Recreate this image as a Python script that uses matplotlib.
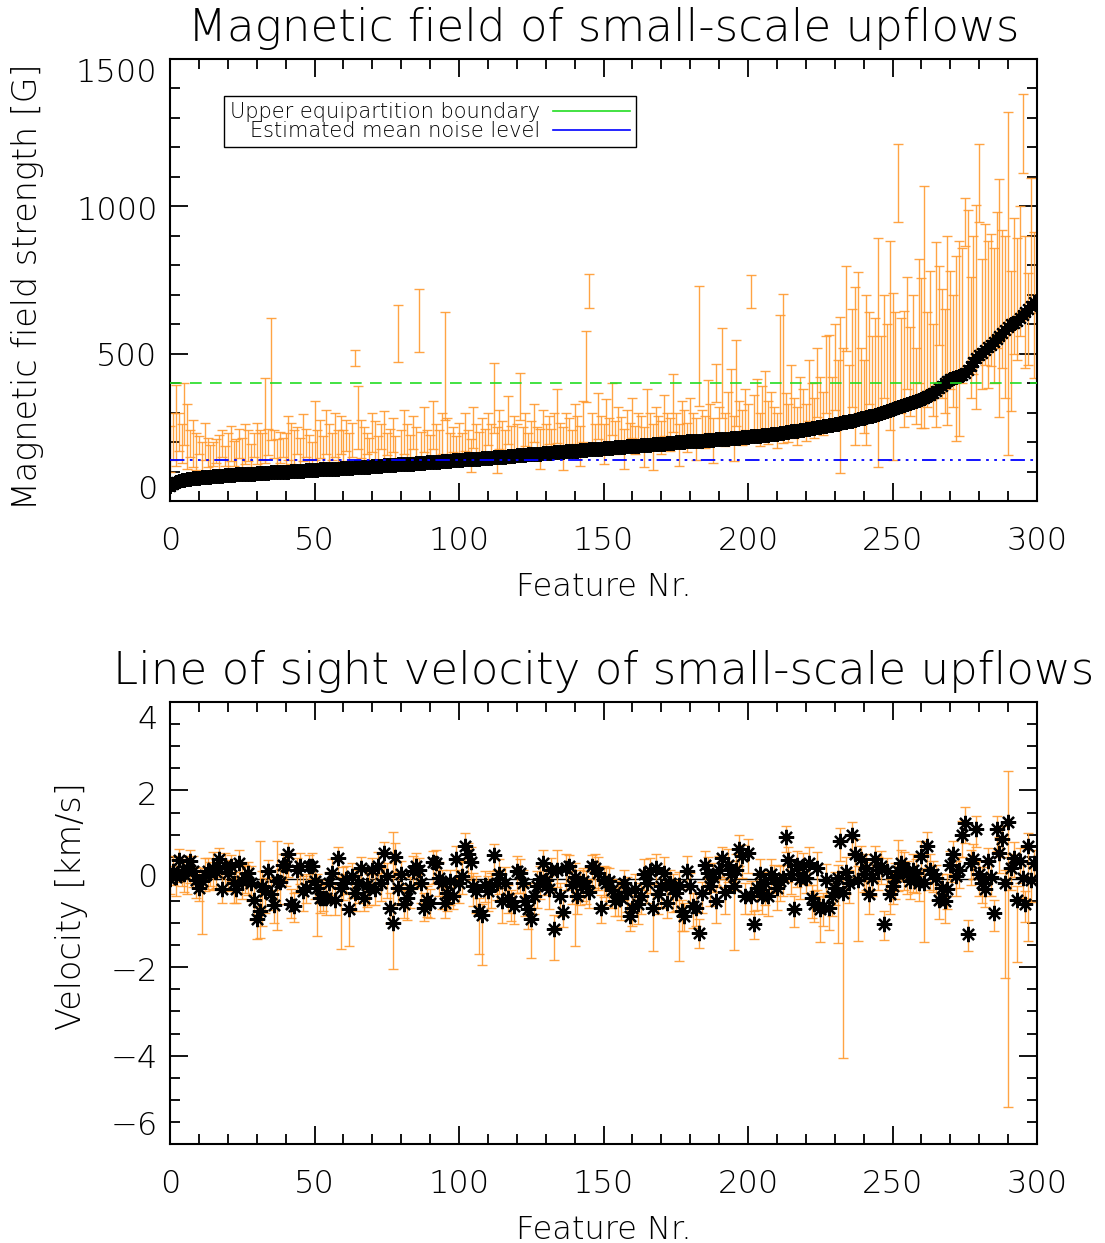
import matplotlib
matplotlib.use('Agg')
import matplotlib.pyplot as plt
import matplotlib.transforms as mtransforms
from matplotlib.lines import Line2D
from matplotlib.ticker import MultipleLocator, FixedLocator
import numpy as np

# ---- data: magnetic field (sorted) -----------------------------------
B = [50, 58, 63, 67, 70, 72, 74, 76, 77, 78,
     79, 80, 81, 82, 83, 84, 85, 85, 86, 87,
     88, 88, 89, 90, 90, 91, 92, 92, 93, 93,
     94, 95, 95, 96, 96, 97, 97, 98, 99, 99,
     100, 100, 101, 101, 102, 103, 103, 104, 104, 105,
     106, 106, 107, 107, 108, 109, 109, 110, 110, 111,
     112, 112, 113, 113, 114, 115, 115, 116, 117, 117,
     118, 119, 119, 120, 121, 121, 122, 123, 123, 124,
     125, 125, 126, 127, 127, 128, 129, 130, 130, 131,
     132, 132, 133, 134, 135, 135, 136, 137, 138, 138,
     139, 140, 141, 141, 142, 143, 144, 144, 145, 146,
     147, 147, 148, 149, 150, 151, 151, 152, 153, 154,
     155, 155, 156, 157, 158, 159, 159, 160, 161, 162,
     163, 163, 164, 165, 166, 167, 167, 168, 169, 170,
     171, 171, 172, 173, 174, 175, 175, 176, 177, 178,
     179, 179, 180, 181, 182, 183, 183, 184, 185, 186,
     187, 187, 188, 189, 190, 191, 191, 192, 193, 194,
     195, 195, 196, 197, 198, 199, 200, 200, 201, 202,
     203, 203, 204, 205, 205, 206, 207, 208, 208, 209,
     210, 211, 211, 212, 213, 214, 215, 215, 216, 217,
     218, 219, 220, 221, 222, 223, 224, 225, 227, 228,
     229, 230, 232, 233, 235, 236, 238, 239, 241, 242,
     244, 245, 247, 248, 250, 252, 253, 255, 257, 259,
     261, 263, 265, 267, 269, 271, 273, 276, 278, 280,
     283, 285, 288, 290, 293, 296, 299, 302, 305, 308,
     311, 314, 318, 321, 325, 328, 332, 335, 339, 343,
     347, 351, 356, 361, 367, 374, 382, 391, 400, 408,
     414, 418, 422, 425, 429, 435, 446, 459, 472, 484,
     494, 503, 512, 521, 530, 540, 550, 560, 570, 580,
     592, 600, 605, 612, 620, 630, 642, 652, 663, 675]

B_lo = [100, 140, 120, 170, 130, 190, 110, 150, 115, 105,
        160, 100, 140, 115, 100, 120, 130, 95, 150, 120,
        105, 135, 120, 100, 145, 110, 125, 135, 115, 150,
        125, 110, 140, 130, 155, 208, 145, 115, 130, 150,
        120, 140, 125, 105, 160, 115, 135, 150, 120, 110,
        140, 125, 145, 118, 160, 125, 138, 150, 115, 160,
        135, 170, 125, 150, 457, 175, 145, 130, 160, 120,
        165, 140, 110, 175, 135, 155, 120, 165, 130, 472,
        125, 160, 145, 120, 175, 150, 504, 130, 165, 140,
        120, 175, 150, 135, 160, 276, 145, 130, 165, 120,
        150, 125, 170, 140, 100, 180, 150, 125, 165, 140,
        190, 150, 230, 95, 175, 160, 130, 195, 150, 170,
        145, 276, 160, 185, 140, 170, 200, 155, 110, 180,
        160, 195, 150, 170, 197, 160, 105, 185, 165, 150,
        195, 170, 120, 200, 335, 655, 170, 155, 210, 180,
        125, 200, 170, 225, 160, 190, 175, 110, 200, 170,
        215, 160, 190, 175, 115, 210, 180, 105, 200, 185,
        160, 220, 190, 170, 235, 180, 120, 205, 185, 165,
        220, 190, 140, 321, 200, 180, 230, 195, 130, 335,
        210, 282, 185, 225, 200, 135, 253, 220, 190, 240,
        205, 655, 200, 230, 185, 215, 240, 195, 230, 210,
        180, 242, 198, 225, 200, 250, 215, 190, 260, 230,
        205, 270, 240, 215, 285, 250, 225, 300, 270, 240,
        310, 260, 95, 280, 508, 250, 320, 191, 300, 270,
        230, 191, 330, 270, 300, 117, 280, 350, 300, 242,
        140, 330, 947, 300, 250, 380, 290, 340, 260, 400,
        248, 248, 320, 380, 290, 250, 530, 350, 300, 259,
        380, 320, 202, 219, 400, 864, 462, 350, 430, 312,
        947, 380, 460, 385, 457, 400, 520, 284, 450, 349,
        157, 307, 500, 480, 560, 1113, 450, 462, 638, 417]

B_hi = [255, 300, 395, 300, 260, 400, 330, 240, 275, 230,
        220, 200, 265, 215, 190, 200, 210, 225, 240, 185,
        230, 255, 205, 210, 245, 215, 260, 240, 195, 230,
        265, 240, 230, 418, 245, 622, 240, 210, 235, 215,
        230, 290, 265, 240, 250, 215, 295, 245, 225, 200,
        340, 240, 275, 220, 310, 260, 230, 300, 240, 290,
        240, 275, 230, 265, 513, 390, 275, 250, 230, 215,
        300, 270, 220, 260, 305, 230, 245, 280, 220, 666,
        240, 310, 260, 225, 290, 250, 719, 235, 320, 240,
        225, 340, 260, 240, 300, 640, 280, 230, 250, 220,
        265, 230, 300, 240, 210, 320, 260, 235, 280, 245,
        300, 260, 470, 250, 310, 270, 240, 355, 255, 290,
        260, 433, 250, 300, 230, 270, 330, 250, 245, 310,
        260, 290, 245, 300, 379, 265, 250, 300, 280, 240,
        330, 290, 255, 340, 576, 769, 300, 260, 365, 290,
        260, 345, 280, 400, 270, 320, 285, 245, 310, 265,
        350, 255, 300, 290, 250, 380, 300, 260, 320, 290,
        270, 360, 300, 280, 430, 300, 260, 340, 310, 265,
        350, 300, 280, 728, 310, 290, 410, 330, 280, 465,
        320, 587, 300, 370, 449, 290, 547, 340, 310, 380,
        330, 768, 360, 415, 300, 390, 440, 340, 370, 320,
        300, 630, 702, 365, 330, 460, 350, 320, 420, 380,
        330, 480, 400, 350, 520, 420, 370, 560, 562, 420,
        600, 480, 626, 520, 798, 460, 650, 726, 776, 520,
        480, 700, 640, 560, 620, 893, 560, 700, 600, 881,
        706, 640, 1210, 620, 644, 760, 590, 700, 520, 820,
        757, 1068, 640, 780, 600, 878, 798, 720, 650, 898,
        780, 700, 830, 881, 860, 1028, 988, 760, 900, 1005,
        1210, 820, 940, 884, 906, 860, 980, 1093, 920, 898,
        1319, 779, 960, 894, 1000, 1381, 900, 774, 1096, 912]

# ---- data: line of sight velocity -----------------------------------
V = [0.0, 0.17, 0.05, 0.42, 0.14, 0.1, 0.21, 0.4, 0.17, -0.03,
     -0.2, -0.05, 0.08, 0.17, 0.14, 0.25, 0.15, 0.45, -0.24, 0.29,
     0.12, 0.29, -0.09, -0.24, 0.36, -0.05, 0.02, 0.14, -0.1, -0.48,
     -0.92, -0.73, -0.17, -0.28, 0.17, -0.35, -0.6, -0.05, -0.08, 0.32,
     0.29, 0.55, -0.58, -0.62, 0.21, 0.29, -0.28, -0.2, 0.29, 0.29,
     -0.05, -0.2, -0.43, -0.43, -0.43, -0.1, 0.14, -0.47, 0.48, -0.2,
     -0.09, 0.0, -0.69, 0.06, -0.32, -0.1, 0.25, -0.43, -0.13, -0.2,
     0.21, -0.24, 0.3, -0.1, 0.59, 0.06, -0.66, -1.0, 0.5, -0.2,
     0.1, -0.58, -0.43, -0.2, 0.17, 0.29, 0.21, -0.1, -0.66, -0.47,
     -0.54, 0.38, 0.36, 0.02, -0.09, -0.54, -0.32, -0.05, -0.39, 0.44,
     -0.09, 0.06, 0.74, 0.55, 0.38, -0.17, -0.28, -0.73, -0.81, -0.13,
     -0.28, -0.17, 0.53, -0.09, 0.1, -0.5, -0.09, -0.43, -0.5, -0.62,
     0.17, 0.14, -0.09, -0.5, -0.69, -0.92, -0.39, -0.17, 0.0, 0.36,
     -0.02, -0.24, 0.21, -1.13, 0.21, -0.39, -0.75, 0.25, 0.29, -0.13,
     0.05, -0.39, -0.09, -0.05, -0.17, -0.3, 0.29, 0.25, 0.14, -0.66,
     -0.02, -0.09, -0.05, -0.25, -0.5, -0.39, -0.43, -0.09, -0.3, -0.84,
     -0.66, -0.24, -0.58, -0.39, 0.1, -0.1, 0.17, -0.66, 0.25, -0.35,
     -0.17, 0.14, -0.54, -0.1, -0.24, -0.32, -0.15, -0.73, -0.84, 0.17,
     -0.17, -0.62, -0.66, -1.22, -0.32, 0.32, 0.14, -0.17, 0.05, -0.5,
     0.21, 0.48, -0.3, 0.32, 0.1, -0.17, 0.2, 0.68, 0.51, -0.39,
     0.59, -0.39, -1.02, -0.2, 0.1, -0.39, -0.09, -0.39, 0.1, 0.02,
     -0.2, -0.05, 0.02, 0.95, 0.42, 0.1, -0.68, 0.32, 0.0, 0.29,
     0.02, 0.36, -0.43, -0.58, 0.25, -0.69, -0.62, -0.02, -0.66, -0.39,
     -0.2, 0.02, 0.85, -0.32, 0.15, -0.09, 0.98, 0.55, -0.02, 0.44,
     0.1, 0.25, -0.35, 0.02, 0.44, 0.2, 0.29, -1.03, 0.17, -0.35,
     -0.17, 0.05, 0.17, 0.36, 0.25, 0.1, -0.05, 0.21, 0.14, -0.1,
     0.51, -0.09, 0.75, 0.2, 0.1, 0.02, -0.47, -0.2, -0.5, -0.24,
     0.32, 0.55, 0.06, 0.2, 1.0, 1.27, -1.24, 0.36, 0.44, 1.12,
     0.1, -0.09, -0.24, 0.4, 0.05, -0.77, 1.13, 0.59, 0.89, -0.09,
     1.28, 0.25, 0.48, -0.47, 0.4, 0.02, -0.58, 0.74, -0.02, 0.36]

V_dn = [0.35, 0.3, 0.45, 0.5, 0.3, 0.4, 0.55, 0.5, 0.35, 0.4,
        0.3, 1.2, 0.35, 0.4, 0.3, 0.5, 0.35, 0.4, 0.3, 0.55,
        0.4, 0.35, 0.45, 0.3, 0.5, 0.4, 0.35, 0.5, 0.4, 0.45,
        0.45, 0.6, 0.9, 0.5, 0.45, 0.35, 0.4, 1.1, 0.5, 0.35,
        0.45, 0.5, 0.3, 0.35, 0.5, 0.4, 0.45, 0.35, 0.5, 0.3,
        0.4, 1.1, 0.35, 0.3, 0.4, 0.45, 0.5, 0.35, 0.45, 1.38,
        0.4, 0.35, 0.83, 0.5, 0.4, 0.45, 0.35, 0.3, 0.5, 0.4,
        0.45, 0.35, 0.5, 0.4, 0.45, 0.5, 0.35, 1.04, 0.45, 0.4,
        0.35, 0.3, 0.5, 0.45, 0.4, 0.5, 0.35, 0.45, 0.3, 0.4,
        0.35, 0.5, 0.45, 0.4, 0.6, 0.35, 0.4, 0.55, 0.3, 0.45,
        0.45, 0.4, 0.35, 0.5, 0.4, 0.45, 0.5, 0.98, 1.13, 0.4,
        0.45, 0.5, 0.35, 0.4, 0.45, 0.5, 0.4, 0.35, 0.45, 0.4,
        0.5, 0.45, 0.4, 0.35, 0.45, 0.87, 0.4, 0.5, 0.45, 0.4,
        0.35, 0.45, 0.5, 0.7, 0.4, 0.45, 0.35, 0.5, 0.4, 0.45,
        1.56, 0.4, 0.5, 0.45, 0.4, 0.35, 0.5, 0.45, 0.4, 0.35,
        0.4, 0.5, 0.45, 0.4, 0.35, 0.45, 0.5, 0.4, 0.45, 0.35,
        0.4, 0.5, 0.45, 0.4, 0.35, 0.45, 0.5, 0.98, 0.4, 0.45,
        0.5, 0.4, 0.35, 0.45, 0.5, 0.4, 1.7, 0.45, 0.35, 0.4,
        0.45, 0.5, 0.4, 0.35, 0.45, 0.5, 0.4, 0.45, 0.35, 0.5,
        0.4, 0.45, 0.5, 0.4, 0.35, 1.43, 0.45, 0.4, 0.5, 0.4,
        0.45, 0.4, 0.35, 0.5, 0.45, 0.4, 0.5, 0.45, 0.4, 0.35,
        0.5, 0.45, 0.4, 0.35, 0.5, 0.45, 0.4, 0.5, 0.45, 0.4,
        0.35, 0.5, 0.45, 0.4, 0.5, 0.74, 0.45, 0.4, 0.5, 0.45,
        0.4, 1.47, 0.45, 3.73, 0.5, 0.45, 0.4, 0.5, 1.39, 0.45,
        0.4, 0.5, 0.45, 0.4, 0.5, 0.45, 0.4, 0.35, 0.5, 0.45,
        0.4, 0.5, 0.45, 0.4, 0.5, 0.45, 0.4, 0.5, 0.45, 0.4,
        0.45, 1.34, 0.5, 0.45, 0.4, 0.5, 0.45, 0.4, 0.5, 0.45,
        0.4, 0.5, 0.45, 0.4, 0.5, 0.45, 0.4, 0.5, 0.45, 0.4,
        0.5, 0.45, 0.4, 0.5, 0.45, 0.4, 0.5, 0.45, 0.4, 2.15,
        6.44, 0.5, 0.45, 1.42, 0.5, 0.45, 0.4, 2.15, 0.5, 0.45]

V_up = [0.3, 0.35, 0.4, 0.25, 0.3, 0.35, 0.3, 0.25, 0.35, 0.3,
        0.35, 0.3, 0.4, 0.3, 0.25, 0.35, 0.3, 0.25, 0.35, 0.3,
        0.3, 0.25, 0.35, 0.4, 0.3, 0.35, 0.3, 0.25, 0.4, 0.35,
        0.3, 1.58, 0.35, 0.3, 0.25, 0.4, 0.35, 0.9, 0.3, 0.25,
        0.3, 0.25, 0.35, 0.3, 0.25, 0.3, 0.35, 0.3, 0.25, 0.3,
        0.35, 0.3, 0.4, 0.35, 0.3, 0.25, 0.3, 0.35, 0.25, 0.3,
        0.35, 0.3, 0.4, 0.3, 0.35, 0.3, 0.25, 0.35, 0.3, 0.3,
        0.25, 0.35, 0.3, 0.35, 0.25, 0.3, 0.35, 2.06, 0.3, 0.35,
        0.3, 0.35, 0.3, 0.25, 0.35, 0.3, 0.25, 0.3, 0.35, 0.3,
        0.3, 0.25, 0.3, 0.35, 0.3, 0.35, 0.3, 0.25, 0.4, 0.3,
        0.3, 0.35, 0.3, 0.25, 0.35, 0.3, 0.35, 0.3, 0.25, 0.3,
        0.35, 0.3, 0.25, 0.3, 0.35, 0.3, 0.35, 0.3, 0.25, 0.3,
        0.35, 0.3, 0.3, 0.35, 0.3, 0.25, 0.3, 0.35, 0.3, 0.3,
        0.35, 0.3, 0.25, 0.3, 0.45, 0.3, 0.35, 0.3, 0.25, 0.3,
        0.3, 0.35, 0.3, 0.3, 0.35, 0.3, 0.25, 0.3, 0.35, 0.3,
        0.3, 0.35, 0.3, 0.25, 0.3, 0.35, 0.3, 0.3, 0.35, 0.3,
        0.3, 0.35, 0.25, 0.3, 0.35, 0.3, 0.3, 0.35, 0.3, 0.25,
        0.3, 0.35, 0.3, 0.3, 0.35, 0.3, 0.3, 0.25, 0.3, 0.35,
        0.3, 0.3, 0.35, 0.3, 0.25, 0.3, 0.35, 0.3, 0.3, 0.35,
        0.3, 0.25, 0.3, 0.35, 0.3, 0.3, 0.35, 0.3, 0.25, 0.3,
        0.3, 0.35, 0.3, 0.3, 0.35, 0.3, 0.25, 0.3, 0.35, 0.3,
        0.3, 0.35, 0.3, 0.25, 0.3, 0.35, 0.3, 0.3, 0.35, 0.3,
        0.3, 0.35, 0.3, 0.3, 0.35, 0.3, 0.3, 0.35, 0.3, 0.3,
        0.35, 0.3, 0.3, 0.5, 0.35, 0.3, 0.3, 0.35, 0.3, 0.3,
        0.35, 0.3, 0.3, 0.35, 0.3, 0.3, 0.35, 0.3, 0.3, 0.35,
        0.3, 0.3, 0.7, 0.3, 0.35, 0.3, 0.3, 0.35, 0.3, 0.3,
        0.35, 0.3, 0.3, 0.35, 0.3, 0.3, 0.35, 0.3, 0.3, 0.35,
        0.3, 0.3, 0.35, 0.3, 0.3, 0.35, 0.3, 0.3, 0.35, 0.3,
        0.3, 0.35, 0.3, 0.3, 0.35, 0.3, 0.3, 0.35, 0.3, 0.3,
        1.17, 0.3, 0.35, 0.3, 0.3, 0.35, 0.3, 0.3, 0.35, 0.3]

EQUIPARTITION = 400
NOISE_LEVEL = 140

B_TICKS = [0, 500, 1000, 1500]
V_TICKS = [-6, -4, -2, 0, 2, 4]

feature = np.arange(len(B))
B = np.array(B, float)
B_lo = np.array(B_lo, float)
B_hi = np.array(B_hi, float)
V = np.array(V)
V_dn = np.array(V_dn)
V_up = np.array(V_up)

ORANGE = '#ff9a30'
STAR = (8, 2, 0)

plt.rcParams['font.family'] = ['DejaVu Sans']
plt.rcParams['font.weight'] = 200
plt.rcParams['axes.titleweight'] = 200
plt.rcParams['axes.labelweight'] = 200

fig = plt.figure(figsize=(11.05, 12.43), dpi=100)
ax1 = fig.add_axes([170/1105, 1 - 501/1243, 867/1105, 442/1243])
ax2 = fig.add_axes([170/1105, 1 - 1144/1243, 867/1105, 442/1243])


def style_axis(ax, yticks, ymin):
    ax.set_xlim(0, 300)
    ax.xaxis.set_major_locator(MultipleLocator(50))
    ax.xaxis.set_minor_locator(MultipleLocator(10))
    ax.yaxis.set_major_locator(FixedLocator(yticks))
    ax.yaxis.set_minor_locator(MultipleLocator(ymin))
    ax.tick_params(which='both', direction='in', top=True, right=True,
                   width=1.3, labelsize=23)
    ax.tick_params(which='major', length=13)
    ax.tick_params(which='minor', length=7)
    ax.tick_params(axis='x', pad=18)
    ax.tick_params(axis='y', pad=9)
    for s in ax.spines.values():
        s.set_linewidth(1.5)


# ---- top panel --------------------------------------------------------
ax1.errorbar(feature, B_lo, yerr=[np.zeros_like(B_lo), B_hi - B_lo], fmt='none',
             ecolor=ORANGE, elinewidth=1.0, capsize=3.5, capthick=1.0, alpha=0.9, zorder=2)
ax1.plot(feature, B, linestyle='none', marker=STAR, markersize=10.5, mew=1.6,
         color='black', zorder=3)
ax1.axhline(EQUIPARTITION, color='#22dd22', lw=1.2, ls=(0, (7, 5)), zorder=4)
ax1.axhline(NOISE_LEVEL, color='#0000ff', lw=1.3,
            ls=(0, (8, 3, 1.5, 3, 1.5, 3, 1.5, 3)), zorder=4)
ax1.set_ylim(0, 1500)
style_axis(ax1, B_TICKS, 100)
ax1.set_title('Magnetic field of small-scale upflows', fontsize=32.5, pad=13)
ax1.set_xlabel('Feature Nr.', fontsize=23)
ax1.set_ylabel('Magnetic field strength [G]', fontsize=24)
ax1.xaxis.set_label_coords(0.5, -0.16)
ax1.yaxis.set_label_coords(-0.145, 0.485)

handles = [Line2D([], [], color='#22dd22', lw=1.2), Line2D([], [], color='#0000ff', lw=1.2)]
leg = ax1.legend(handles, ['Upper equipartition boundary', 'Estimated mean noise level'],
                 markerfirst=False, loc='upper left', bbox_to_anchor=(0.062, 0.917),
                 fancybox=False, edgecolor='black', framealpha=1, fontsize=15,
                 handlelength=3.7, handletextpad=0.6, labelspacing=-0.05,
                 borderpad=0.3, borderaxespad=0)
leg.get_frame().set_linewidth(1.0)

# ---- bottom panel -----------------------------------------------------
ax2.axhline(0, color='black', lw=1.0, zorder=1)
ax2.errorbar(feature, V, yerr=[V_dn, V_up], fmt='none', ecolor=ORANGE,
             elinewidth=1.0, capsize=3.5, capthick=1.0, alpha=0.9, zorder=2)
ax2.plot(feature, V, linestyle='none', marker=STAR, markersize=11, mew=1.6,
         color='black', zorder=3)
ax2.set_ylim(-6, 4)
style_axis(ax2, V_TICKS, 0.5)
ax2.set_title('Line of sight velocity of small-scale upflows', fontsize=32.5, pad=13)
ax2.set_xlabel('Feature Nr.', fontsize=23)
ax2.set_ylabel('Velocity [km/s]', fontsize=24)
ax2.xaxis.set_label_coords(0.5, -0.16)
ax2.yaxis.set_label_coords(-0.095, 0.538)

# IDL-style placement of the y tick labels (pixel shifts, + is up)
fig.canvas.draw()
label_shift = {ax1: {0: 14, 500: 0, 1000: -2, 1500: -11},
               ax2: {-6: 21, -4: 0, -2: -2, 0: 4, 2: -3, 4: -15}}
for ax, shifts in label_shift.items():
    for tick in ax.yaxis.get_major_ticks():
        dy = shifts.get(round(tick.get_loc()), 0)
        off = mtransforms.ScaledTranslation(0, dy / 100.0, fig.dpi_scale_trans)
        tick.label1.set_transform(tick.label1.get_transform() + off)

fig.savefig('out.png', dpi=100, facecolor='white')
